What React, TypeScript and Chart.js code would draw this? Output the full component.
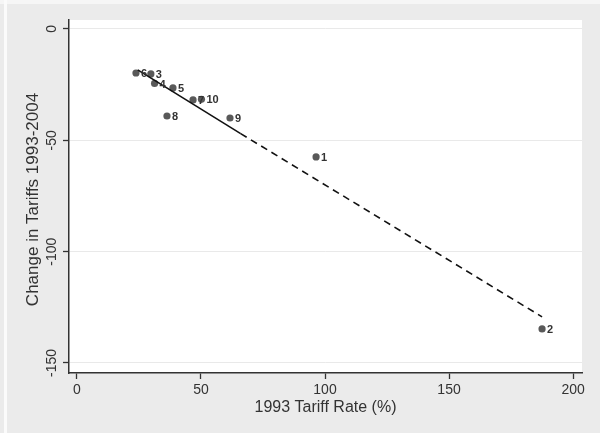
import React, { useEffect, useRef } from "react";
import { Chart, registerables } from "chart.js";

Chart.register(...registerables);

// Country ids and values
const pointLabels = ["1", "2", "3", "4", "5", "6", "7", "8", "9", "10"];
const tariff1993 = [96.4, 187.5, 29.8, 31.3, 38.7, 23.8, 46.8, 36.3, 61.7, 50.2];
const tariffChange = [-57.5, -134.7, -20.2, -24.5, -26.5, -19.8, -31.9, -39.1, -40.0, -31.6];

// Fitted line (solid part, then dashed part)
const fitSolidX = [24.5, 66];
const fitSolidY = [-18.4, -47.0];
const fitDashX = [66, 187.5];
const fitDashY = [-47.0, -129.3];

const xTicks = [0, 50, 100, 150, 200];
const yTicks = [0, -50, -100, -150];

const xTitle = "1993 Tariff Rate (%)";
const yTitle = "Change in Tariffs 1993-2004";

const FONT = "Arial, 'Liberation Sans', sans-serif";

export default function App() {
  const ref = useRef<HTMLCanvasElement | null>(null);

  useEffect(() => {
    const canvas = ref.current;
    if (!canvas) return;

    const bgPlugin = {
      id: "bg",
      beforeDraw(chart: any) {
        const { ctx, width, height, chartArea } = chart;
        ctx.save();
        ctx.fillStyle = "#ebebeb";
        ctx.fillRect(0, 0, width, height);
        ctx.fillStyle = "#f6f6f6";
        ctx.fillRect(0, 0, width, 4);
        ctx.fillStyle = "#fbfbfb";
        ctx.fillRect(4, 0, 3, height);
        ctx.fillStyle = "#ffffff";
        ctx.fillRect(chartArea.left, chartArea.top, chartArea.right - chartArea.left, chartArea.bottom - chartArea.top);
        ctx.restore();
      },
    };

    const textPlugin = {
      id: "texts",
      afterDraw(chart: any) {
        const { ctx, chartArea } = chart;
        const ys = chart.scales.y;
        ctx.save();
        ctx.fillStyle = "#333333";
        // y tick labels, rotated
        ctx.font = `14px ${FONT}`;
        ctx.textAlign = "center";
        ctx.textBaseline = "middle";
        for (const t of ys.ticks) {
          const py = ys.getPixelForValue(t.value);
          ctx.save();
          ctx.translate(52, py);
          ctx.rotate(-Math.PI / 2);
          ctx.fillText(String(t.value), 0, 0);
          ctx.restore();
        }
        // axis titles
        ctx.font = `17px ${FONT}`;
        ctx.save();
        ctx.translate(33, (chartArea.top + chartArea.bottom) / 2 + 3);
        ctx.rotate(-Math.PI / 2);
        ctx.fillText(yTitle, 0, 0);
        ctx.restore();
        ctx.font = `16px ${FONT}`;
        ctx.fillText(xTitle, (chartArea.left + chartArea.right) / 2, 408);
        ctx.restore();
      },
      afterDatasetsDraw(chart: any) {
        const { ctx } = chart;
        const meta = chart.getDatasetMeta(2);
        ctx.save();
        ctx.fillStyle = "#333333";
        ctx.font = `bold 11px ${FONT}`;
        ctx.textAlign = "left";
        ctx.textBaseline = "middle";
        meta.data.forEach((el: any, i: number) => {
          ctx.fillText(pointLabels[i], el.x + 5, el.y + 1);
        });
        ctx.restore();
      },
    };

    const chart = new Chart(canvas, {
      type: "scatter",
      data: {
        datasets: [
          {
            label: "fit",
            data: fitSolidX.map((x, i) => ({ x, y: fitSolidY[i] })),
            showLine: true,
            borderColor: "#111111",
            borderWidth: 1.6,
            pointRadius: 0,
            order: 0,
          },
          {
            label: "fit-extrap",
            data: fitDashX.map((x, i) => ({ x, y: fitDashY[i] })),
            showLine: true,
            borderColor: "#111111",
            borderWidth: 1.6,
            borderDash: [7, 5],
            pointRadius: 0,
            order: 0,
          },
          {
            label: "countries",
            data: tariff1993.map((x, i) => ({ x, y: tariffChange[i] })),
            backgroundColor: "#595959",
            borderWidth: 0,
            pointRadius: 3.6,
            order: 1,
          },
        ],
      },
      options: {
        animation: false,
        responsive: false,
        maintainAspectRatio: false,
        layout: { padding: { left: 0, top: 20, right: 18, bottom: 0 } },
        plugins: { legend: { display: false }, tooltip: { enabled: false } },
        scales: {
          x: {
            type: "linear",
            min: -3.2,
            max: 203.6,
            afterBuildTicks: (s: any) => {
              s.ticks = xTicks.map((v) => ({ value: v }));
            },
            afterFit: (s: any) => {
              s.height = 60;
            },
            grid: { drawOnChartArea: false, tickLength: 6, tickColor: "#333333", tickWidth: 1.3 },
            border: { color: "#333333", width: 1.5 },
            ticks: { color: "#333333", font: { size: 14, family: FONT }, padding: 3, maxRotation: 0 },
          },
          y: {
            type: "linear",
            min: -154.5,
            max: 4,
            afterBuildTicks: (s: any) => {
              s.ticks = yTicks.map((v) => ({ value: v }));
            },
            afterFit: (s: any) => {
              s.width = 69;
            },
            grid: { color: "#e9e9e9", tickLength: 6, tickColor: "#333333", tickWidth: 1.3 },
            border: { color: "#333333", width: 1.5 },
            ticks: { display: false },
          },
        },
      },
      plugins: [bgPlugin, textPlugin],
    } as any);

    return () => chart.destroy();
  }, []);

  return (
    <div style={{ position: "fixed", left: 0, top: 0, width: 600, height: 433 }}>
      <canvas ref={ref} width={600} height={433} style={{ width: 600, height: 433, display: "block" }} />
    </div>
  );
}
